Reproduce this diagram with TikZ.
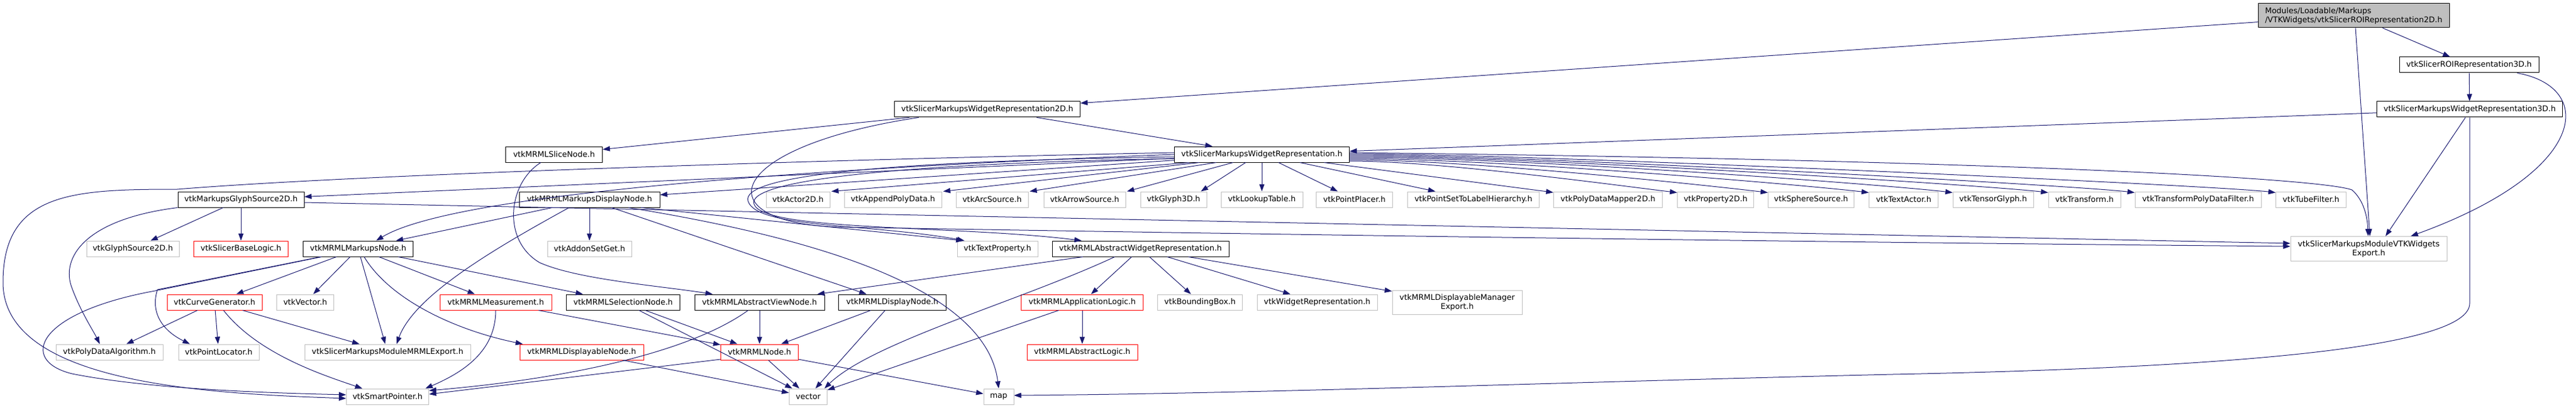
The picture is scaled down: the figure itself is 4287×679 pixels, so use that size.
\documentclass[tikz,border=0pt]{standalone}
\usepackage{fontspec}
\setmainfont{DejaVu Sans}
\usepackage{tikz}
\usetikzlibrary{arrows.meta}
\definecolor{edgeblue}{HTML}{191970}
\definecolor{extgray}{HTML}{BFBFBF}
\newcommand{\graphfont}{\fontsize{13}{15}\selectfont}

\begin{document}
\begin{tikzpicture}[x=1pt,y=-1pt,
  doc/.style={draw=black, fill=white, line width=1pt, minimum height=26pt, inner sep=0pt, font=\graphfont},
  ext/.style={doc, draw=extgray},
  trunc/.style={doc, draw=red},
  top/.style={doc, fill=extgray},
  dep/.style={draw=edgeblue, line width=1pt, -{Triangle[length=12pt,width=8.5pt]}}]
  \useasboundingbox (0,0) rectangle (4287,679);

  % rows of headers
  \node[top, minimum width=318pt, minimum height=40pt, align=left] (Root) at (3917,26) {Modules/Loadable/Markups\\/VTKWidgets/vtkSlicerROIRepresentation2D.h};
  \node[doc, minimum width=232pt] (ROI) at (4109,108) {vtkSlicerROIRepresentation3D.h};
  \node[doc, minimum width=309pt] (W3D) at (4110,182) {vtkSlicerMarkupsWidgetRepresentation3D.h};
  \node[doc, minimum width=309pt] (W2D) at (1643,182) {vtkSlicerMarkupsWidgetRepresentation2D.h};
  \node[doc, minimum width=161pt] (SliceN) at (922,257) {vtkMRMLSliceNode.h};
  \node[doc, minimum width=291pt] (WR) at (2100,257) {vtkSlicerMarkupsWidgetRepresentation.h};

  \node[doc, minimum width=210pt] (GS2D) at (401,332) {vtkMarkupsGlyphSource2D.h};
  \node[doc, minimum width=234pt] (MDN) at (981,332) {vtkMRMLMarkupsDisplayNode.h};
  \node[ext, minimum width=106pt] (Actor) at (1328,332) {vtkActor2D.h};
  \node[ext, minimum width=162pt] (Append) at (1486,332) {vtkAppendPolyData.h};
  \node[ext, minimum width=120pt] (Arc) at (1651,332) {vtkArcSource.h};
  \node[ext, minimum width=136pt] (Arrow) at (1805,332) {vtkArrowSource.h};
  \node[ext, minimum width=110pt] (Glyph) at (1953,332) {vtkGlyph3D.h};
  \node[ext, minimum width=136pt] (Lookup) at (2100,332) {vtkLookupTable.h};
  \node[ext, minimum width=127pt] (Placer) at (2254,332) {vtkPointPlacer.h};
  \node[ext, minimum width=219pt] (Hier) at (2452,332) {vtkPointSetToLabelHierarchy.h};
  \node[ext, minimum width=181pt] (Mapper) at (2676,332) {vtkPolyDataMapper2D.h};
  \node[ext, minimum width=127pt] (Prop) at (2855,332) {vtkProperty2D.h};
  \node[ext, minimum width=143pt] (Sphere) at (3014,332) {vtkSphereSource.h};
  \node[ext, minimum width=115pt] (TActor) at (3168,332) {vtkTextActor.h};
  \node[ext, minimum width=134pt] (Tensor) at (3317,332) {vtkTensorGlyph.h};
  \node[ext, minimum width=120pt] (Trans) at (3469,332) {vtkTransform.h};
  \node[ext, minimum width=210pt] (TPDF) at (3658,332) {vtkTransformPolyDataFilter.h};
  \node[ext, minimum width=117pt] (Tube) at (3846,332) {vtkTubeFilter.h};

  \node[ext, minimum width=154pt] (GSrc) at (221,414) {vtkGlyphSource2D.h};
  \node[trunc, minimum width=157pt] (SBL) at (401,414) {vtkSlicerBaseLogic.h};
  \node[doc, minimum width=183pt] (MN) at (596,414) {vtkMRMLMarkupsNode.h};
  \node[ext, minimum width=140pt] (ASG) at (981,414) {vtkAddonSetGet.h};
  \node[ext, minimum width=134pt] (TP) at (1660,414) {vtkTextProperty.h};
  \node[doc, minimum width=294pt] (AWR) at (1898,414) {vtkMRMLAbstractWidgetRepresentation.h};
  \node[ext, minimum width=260pt, minimum height=41pt, align=center] (VWX) at (3942,414) {vtkSlicerMarkupsModuleVTKWidgets\\Export.h};

  \node[trunc, minimum width=158pt] (CG) at (357,503) {vtkCurveGenerator.h};
  \node[ext, minimum width=95pt] (Vec) at (508,503) {vtkVector.h};
  \node[trunc, minimum width=186pt] (Meas) at (825,503) {vtkMRMLMeasurement.h};
  \node[doc, minimum width=189pt] (SelN) at (1037,503) {vtkMRMLSelectionNode.h};
  \node[doc, minimum width=216pt] (AVN) at (1264,503) {vtkMRMLAbstractViewNode.h};
  \node[doc, minimum width=179pt] (DN) at (1485,503) {vtkMRMLDisplayNode.h};
  \node[trunc, minimum width=203pt] (AL) at (1801,503) {vtkMRMLApplicationLogic.h};
  \node[ext, minimum width=141pt] (BB) at (1997,503) {vtkBoundingBox.h};
  \node[ext, minimum width=200pt] (WRep) at (2192,503) {vtkWidgetRepresentation.h};
  \node[ext, minimum width=216pt, minimum height=40pt, align=center] (DMX) at (2425,503) {vtkMRMLDisplayableManager\\Export.h};

  \node[ext, minimum width=178pt] (PDA) at (182,586) {vtkPolyDataAlgorithm.h};
  \node[ext, minimum width=134pt] (PL) at (364,586) {vtkPointLocator.h};
  \node[ext, minimum width=276pt] (MX) at (645,586) {vtkSlicerMarkupsModuleMRMLExport.h};
  \node[trunc, minimum width=206pt] (DPN) at (968,586) {vtkMRMLDisplayableNode.h};
  \node[trunc, minimum width=129pt] (MRN) at (1264,586) {vtkMRMLNode.h};
  \node[trunc, minimum width=184pt] (ALogic) at (1801,586) {vtkMRMLAbstractLogic.h};

  \node[ext, minimum width=137pt] (SP) at (645,660) {vtkSmartPointer.h};
  \node[ext, minimum width=63pt] (vec) at (1345,660) {vector};
  \node[ext, minimum width=50pt] (map) at (1662,660) {map};

  % root and 3D side
  \draw[dep] (Root) -- (W2D);
  \draw[dep] (Root) -- (ROI);
  \draw[dep] ([xshift=3pt]Root.south) -- ([xshift=2pt]VWX.north);
  \draw[dep] (ROI) -- (W3D);
  \draw[dep] ([xshift=80pt]ROI.south) .. controls (4320,145) and (4310,285) .. ([xshift=70pt]VWX.north);
  \draw[dep] (W3D) -- (WR);
  \draw[dep] ([xshift=-7pt]W3D.south) -- ([xshift=28pt]VWX.north);
  \draw[dep] (W3D.south) -- (4110,505) .. controls (4110,580) and (3700,612) .. (3150,623)
        .. controls (2600,636) and (2100,655) .. ([yshift=2pt]map.east);

  % 2D representation
  \draw[dep] (W2D) -- (SliceN);
  \draw[dep] (W2D) -- (WR);
  \draw[dep] ([xshift=-114pt]W2D.south) .. controls (1200,245) and (1170,372) .. (1400,378)
        .. controls (2200,392) and (3200,405) .. ([yshift=4pt]VWX.west);

  % widget representation
  \draw[dep] ([xshift=-121pt]WR.south) -- ([xshift=2pt]Actor.north east);
  \draw[dep] ([xshift=-104pt]WR.south) -- ([xshift=2pt]Append.north east);
  \draw[dep] ([xshift=-76pt]WR.south) -- ([xshift=2pt]Arc.north east);
  \draw[dep] ([xshift=-48pt]WR.south) -- ([xshift=2pt]Arrow.north east);
  \draw[dep] ([xshift=-27pt]WR.south) -- ([xshift=-10pt]Glyph.north east);
  \draw[dep] (WR) -- (Lookup);
  \draw[dep] (WR) -- (Placer);
  \draw[dep] (WR) -- (Hier);
  \draw[dep] (WR) -- (Mapper);
  \draw[dep] ([yshift=-11pt]WR.east) .. controls +(150,0) and +(-100,-12) .. ([yshift=-2pt]Prop.north west);
  \draw[dep] ([yshift=-9pt]WR.east) .. controls +(200,0) and +(-100,-12) .. ([yshift=-2pt]Sphere.north west);
  \draw[dep] ([yshift=-7pt]WR.east) .. controls +(250,0) and +(-100,-12) .. ([yshift=-2pt]TActor.north west);
  \draw[dep] ([yshift=-5pt]WR.east) .. controls +(300,0) and +(-100,-12) .. ([yshift=-2pt]Tensor.north west);
  \draw[dep] ([yshift=-3pt]WR.east) .. controls +(300,0) and +(-100,-12) .. ([yshift=-2pt]Trans.north west);
  \draw[dep] ([yshift=-1pt]WR.east) .. controls +(300,0) and +(-100,-12) .. ([yshift=-2pt]TPDF.north west);
  \draw[dep] ([yshift=1pt]WR.east) .. controls +(300,0) and +(-100,-12) .. ([yshift=-2pt]Tube.north west);
  \draw[dep] ([yshift=3pt]WR.east) .. controls (3300,266) and (3860,296) .. (3914,316)
        .. controls (3934,333) and (3940,362) .. ([xshift=-1pt]VWX.north);
  \draw[dep] (WR) -- (MDN);
  \draw[dep] (WR) -- (GS2D);
  \draw[dep] (WR.west) .. controls (1300,282) and (750,325) .. ([xshift=30pt]MN.north);
  \draw[dep] ([yshift=3pt]WR.west) .. controls (1400,265) and (600,290) .. (295,315)
        .. controls (120,315) and (5,320) .. (5,470) .. controls (5,640) and (350,655) .. ([yshift=-3pt]SP.west);
  \draw[dep] ([yshift=-4pt]WR.west) .. controls (1500,268) and (1230,290) .. (1245,335)
        .. controls (1260,380) and (1450,372) .. ([xshift=-55pt]TP.north);
  \draw[dep] ([yshift=-7pt]WR.west) .. controls (1500,272) and (1240,300) .. (1255,340)
        .. controls (1270,385) and (1600,375) .. ([xshift=-98pt]AWR.north);

  % glyph source
  \draw[dep] (GS2D) -- (GSrc);
  \draw[dep] (GS2D) -- (SBL);
  \draw[dep] (GS2D.south west) .. controls (140,365) and (100,430) .. (120,480)
        .. controls (135,520) and (155,550) .. ([xshift=-16pt]PDA.north);
  \draw[dep] ([yshift=-5pt]GS2D.east) -- ([yshift=9pt]VWX.west);

  % slice node
  \draw[dep] ([xshift=-22pt]SliceN.south) .. controls (845,305) and (835,400) .. (898,437)
        .. controls (960,465) and (1100,476) .. ([xshift=-78pt]AVN.north);

  % markups display node
  \draw[dep] ([xshift=-62pt]MDN.south) -- ([xshift=63pt]MN.north);
  \draw[dep] (MDN) -- (ASG);
  \draw[dep] ([xshift=-34pt]MDN.south) .. controls (830,410) and (690,490) .. ([xshift=15pt]MX.north);
  \draw[dep] ([xshift=37pt]MDN.south) -- ([xshift=-43pt]DN.north);
  \draw[dep] ([xshift=86pt]MDN.south) -- ([xshift=-57pt]TP.north);
  \draw[dep] ([xshift=65pt]MDN.south) .. controls (1320,390) and (1640,470) .. (map.north);

  % markups node
  \draw[dep] (MN) -- (CG);
  \draw[dep] (MN) -- (Vec);
  \draw[dep] (MN) -- (MX);
  \draw[dep] (MN) -- (Meas);
  \draw[dep] (MN) -- (SelN);
  \draw[dep] ([xshift=10pt]MN.south) .. controls (650,500) and (760,550) .. ([xshift=-98pt]DPN.north);
  \draw[dep] ([xshift=-63pt]MN.south) -- (262,482) .. controls (250,520) and (270,550) .. ([xshift=-48pt]PL.north);
  \draw[dep] ([xshift=-61pt]MN.south) -- (258,484) .. controls (60,520) and (30,600) .. (120,622)
        .. controls (250,648) and (450,654) .. ([yshift=3pt]SP.west);

  % curve generator and measurement
  \draw[dep] (CG) -- (PDA);
  \draw[dep] (CG) -- (PL);
  \draw[dep] (CG) -- (MX);
  \draw[dep] ([xshift=15pt]CG.south) .. controls (430,590) and (540,625) .. ([xshift=-42pt]SP.north);
  \draw[dep] (Meas) -- (MRN);
  \draw[dep] (Meas.south) .. controls (825,585) and (770,620) .. ([xshift=63pt]SP.north);

  % MRML nodes
  \draw[dep] (SelN) -- (MRN);
  \draw[dep] (SelN) -- (vec);
  \draw[dep] (AVN) -- (MRN);
  \draw[dep] ([xshift=-19pt]AVN.south) .. controls (1150,585) and (950,630) .. ([yshift=10pt]SP.east);
  \draw[dep] (DN) -- (MRN);
  \draw[dep] (DN) -- (vec);
  \draw[dep] (DPN) -- (vec);
  \draw[dep] (MRN) -- (vec);
  \draw[dep] (MRN) -- (map);
  \draw[dep] ([yshift=-12pt]MRN.west) -- ([yshift=4pt]SP.east);

  % abstract widget representation
  \draw[dep] (AWR) -- (AVN);
  \draw[dep] ([xshift=-43pt]AWR.south) .. controls (1700,500) and (1450,570) .. ([xshift=27pt]vec.north);
  \draw[dep] (AWR) -- (AL);
  \draw[dep] (AWR) -- (BB);
  \draw[dep] (AWR) -- (WRep);
  \draw[dep] (AWR) -- (DMX);
  \draw[dep] (AL) -- (ALogic);
  \draw[dep] (AL) -- (vec);
\end{tikzpicture}
\end{document}
